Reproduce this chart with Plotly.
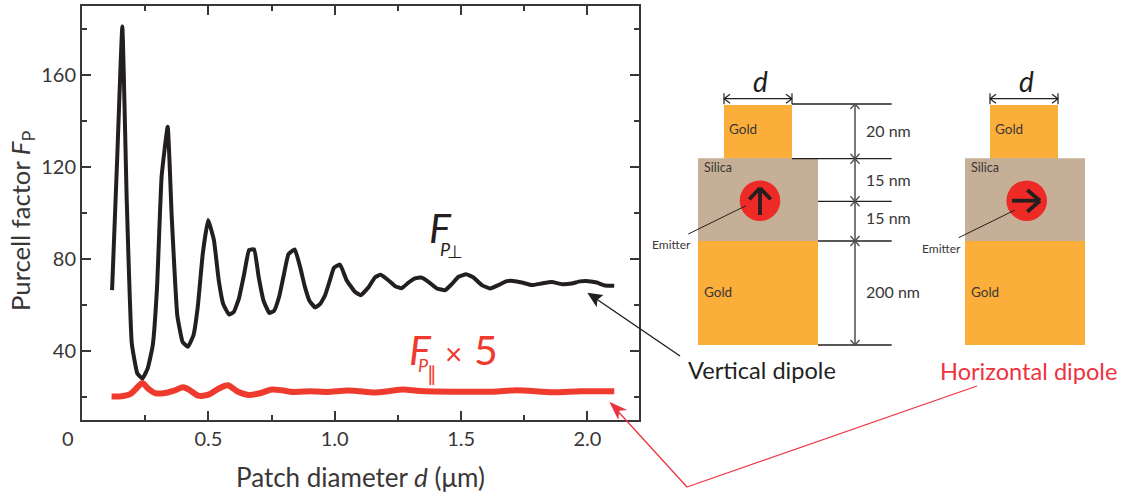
import plotly.graph_objects as go

W, H = 1127, 498
FONT = "Lato"
DARK = "#3a3637"
INK = "#231f20"
RED = "#ef3a2e"
LABEL_RED = "#ee3340"
GOLD = "#fbae3a"
SILICA = "#c5b097"

perp_d = [.119,.139,.1596,.177,.197,.219,.239,.260,.280,.297,.315,.339,.355,.377,.398,.419,.441,.458,.478,.499,
          .522,.541,.559,.582,.601,.621,.642,.661,.681,.699,.718,.741,.760,.780,.797,.817,.842,.863,.882,.900,
          .922,.942,.962,.981,.997,1.021,1.047,1.080,1.103,1.133,1.159,1.182,1.212,1.239,1.265,1.291,1.318,1.342,
          1.371,1.404,1.437,1.463,1.490,1.520,1.549,1.582,1.615,1.648,1.681,1.707,1.741,1.780,1.819,1.859,1.899,
          1.938,1.971,2.004,2.037,2.070,2.106]
perp_f = [66.4,122.9,180.9,105.5,43.2,30.2,28,32.4,42.5,67.8,115.7,137.4,98.3,55.5,43.9,41.8,46.8,59.1,82.3,96.8,
          88.1,70.7,60.3,55.8,57,62.8,73.6,83.8,84.1,72.2,62,56.5,57.4,63.5,72.2,82,84.1,76.5,67.8,61.8,
          58.9,60.3,64.2,70.7,76.1,77.5,70.7,65.7,64.2,67.5,71.9,73.1,70.7,68.1,67.2,69.6,71.5,71.9,
          70,67.1,66.4,69,72.2,73.3,71.9,68.6,67.1,68.6,70.3,70.4,69.7,68.6,69.3,69.9,69,
          69.3,70.2,70.3,69.7,68.4,68.3]
para_d = [.117,.157,.190,.214,.239,.262,.289,.322,.361,.401,.427,.460,.500,.540,.577,.612,.659,.704,.751,.790,
          .836,.902,.968,1.047,1.087,1.159,1.218,1.271,1.337,1.496,1.628,1.720,1.865,1.971,2.106]
para_f = [20.2,20.3,21.2,23.6,26.1,23.6,21.7,21.6,22.6,24.2,22.9,20.6,21,23.6,25.1,22.6,20.9,21.6,23.2,22.9,
          22.2,22.5,22.2,22.8,22.6,21.9,22.6,23.2,22.6,22.3,22.3,22.9,22,22.5,22.5]
x_ticks = [0.5, 1.0, 1.5, 2.0]
x_labels = ["0.5", "1.0", "1.5", "2.0"]
x_minor = [0.25, 0.75, 1.25, 1.75]
y_ticks = [40, 80, 120, 160]
y_minor = [20, 60, 100, 140, 180]

def px(x): return x / W
def py(y): return 1 - y / H

shapes, notes = [], []

def rect(x0, y0, x1, y1, color):
    shapes.append(dict(type="rect", xref="paper", yref="paper", x0=px(x0), x1=px(x1), y0=py(y0), y1=py(y1),
                       fillcolor=color, line_width=0))

def line(x0, y0, x1, y1, color=DARK, width=1.5):
    shapes.append(dict(type="line", xref="paper", yref="paper", x0=px(x0), x1=px(x1), y0=py(y0), y1=py(y1),
                       line=dict(color=color, width=width)))

def poly(pts, color):
    path = "M" + "L".join(f"{px(a):.5f},{py(b):.5f}" for a, b in pts) + "Z"
    shapes.append(dict(type="path", xref="paper", yref="paper", path=path, fillcolor=color, line_width=0))

def text(x, y, s, size, color=DARK, anchor="center", font=FONT, angle=0):
    notes.append(dict(xref="paper", yref="paper", x=px(x), y=py(y), text=s, showarrow=False, xanchor=anchor,
                      yanchor="middle", textangle=angle, font=dict(family=font, size=size, color=color)))

def vdim(x, y0, y1):
    line(x, y0, x, y1, "#4d4d4f", 1.5)
    for yy, s in ((y0, 1), (y1, -1)):
        line(x - 4.5, yy + s * 5, x, yy, "#4d4d4f", 1.3)
        line(x + 4.5, yy + s * 5, x, yy, "#4d4d4f", 1.3)

def hdim(x0, x1, y):
    line(x0, y, x1, y, INK, 1.3)
    for xx, s in ((x0, 1), (x1, -1)):
        line(xx, y - 5.5, xx, y + 5.5, INK, 1.2)
        line(xx + s * 6, y - 4.5, xx, y, INK, 1.2)
        line(xx + s * 6, y + 4.5, xx, y, INK, 1.2)

def stack(left, top_left):
    rect(top_left, 105, top_left + 68, 158.7, GOLD)
    rect(left, 158.3, left + 120, 241, SILICA)
    rect(left, 241, left + 120, 345, GOLD)
    text(top_left + 3, 129.3, "Gold", 13.5, anchor="left")
    text(left + 4, 167.7, "Silica", 12.5, anchor="left")
    text(left + 4, 292, "Gold", 13.5, anchor="left")
    hdim(top_left, top_left + 68, 98.7)
    text(top_left + 36.5, 80.5, "<i>d</i>", 28, INK)

def circle(cx, cy, r=20.3):
    shapes.append(dict(type="circle", xref="paper", yref="paper", x0=px(cx - r), x1=px(cx + r),
                       y0=py(cy + r), y1=py(cy - r), fillcolor="#ee2a27", line_width=0))

stack(698, 724)
stack(965, 990)
circle(760, 200.7)
circle(1026.7, 200.7)
line(760, 215, 760, 188, INK, 3.8)
line(749.3, 199.3, 760, 188, INK, 3.8)
line(770.7, 199.3, 760, 188, INK, 3.8)
line(1012, 200.7, 1040, 200.7, INK, 3.8)
line(1027.3, 190, 1040, 200.7, INK, 3.8)
line(1027.3, 211.7, 1040, 200.7, INK, 3.8)
line(746, 205.7, 688.3, 234, INK, 1)
line(1015, 210, 958.7, 237.7, INK, 1)
text(671, 244, "Emitter", 12)
text(941.7, 248.7, "Emitter", 12)

for x0, y in ((792, 104), (792, 158.7), (818, 201.3), (818, 241), (818, 345)):
    line(x0, y, 891.7, y, INK, 1.3)
vdim(855, 104, 158.7)
vdim(855, 158.7, 201.3)
vdim(855, 201.3, 241)
vdim(855, 241, 345)
text(864, 130.7, "20 nm", 16, anchor="left")
text(864.5, 179.3, "15 nm", 16, anchor="left")
text(864.5, 217.7, "15 nm", 16, anchor="left")
text(864, 291.7, "200 nm", 16, anchor="left")

line(680, 356, 592, 296, INK, 1.4)
poly([(587.3, 292.7), (603.3, 295), (597.3, 300), (596.7, 307.3)], INK)
line(977, 386, 687, 487, LABEL_RED, 1.3)
line(687, 487, 614, 407, LABEL_RED, 1.3)
poly([(609.3, 401.7), (627.3, 410), (619.3, 410.7), (618.3, 420)], LABEL_RED)

text(761.5, 370, "Vertical dipole", 23.6, INK)
text(1028.5, 371, "Horizontal dipole", 23.6, LABEL_RED)

text(440, 227, "<i>F</i>", 41, INK)
text(445.5, 249, "<i>P</i>", 18, INK)
text(455, 252, "⊥", 18, INK, font="DejaVu Sans")
text(420, 349, "<i>F</i>", 41, RED)
text(423.5, 364.5, "<i>P</i>", 18, RED)
text(432, 374, "∥", 20, RED, font="DejaVu Sans")
text(486, 349, "5", 41, RED)
text(453, 353, "×", 30, RED)

text(68, 438, "0", 20)
text(360, 477, "Patch diameter <i>d</i> (μm)", 26)
text(22, 221, "Purcell factor <i>F</i><sub>P</sub>", 25.7, angle=-90)

fig = go.Figure()
fig.add_trace(go.Scatter(x=perp_d, y=perp_f, mode="lines", name="Vertical",
                         line=dict(color=INK, width=4, shape="spline", smoothing=0.35), showlegend=False))
fig.add_trace(go.Scatter(x=para_d, y=para_f, mode="lines", name="Horizontal",
                         line=dict(color=RED, width=6, shape="spline", smoothing=0.7), showlegend=False))

axis_common = dict(showgrid=False, zeroline=False, showline=True, mirror="ticks", linecolor=DARK, linewidth=2,
                   ticks="inside", ticklen=9, tickwidth=1.6, tickcolor=DARK,
                   tickfont=dict(family=FONT, size=20, color=DARK))
fig.update_layout(
    width=W, height=H, margin=dict(l=0, r=0, t=0, b=0), autosize=False,
    paper_bgcolor="white", plot_bgcolor="white", showlegend=False,
    shapes=shapes, annotations=notes,
    xaxis=dict(domain=[82 / W, 639 / W], range=[0, 2.204], tickvals=x_ticks, ticktext=x_labels,
               minor=dict(tickvals=x_minor, ticks="inside", ticklen=5, tickwidth=1.6, tickcolor=DARK), **axis_common),
    yaxis=dict(domain=[1 - 420 / H, 1 - 5.5 / H], range=[10, 190], tickvals=y_ticks,
               minor=dict(tickvals=y_minor, ticks="inside", ticklen=5, tickwidth=1.6, tickcolor=DARK), **axis_common),
)
fig.write_html("out.html", config={"displayModeBar": False},
               post_script="document.body.style.margin='0';document.body.style.overflow='hidden';")
